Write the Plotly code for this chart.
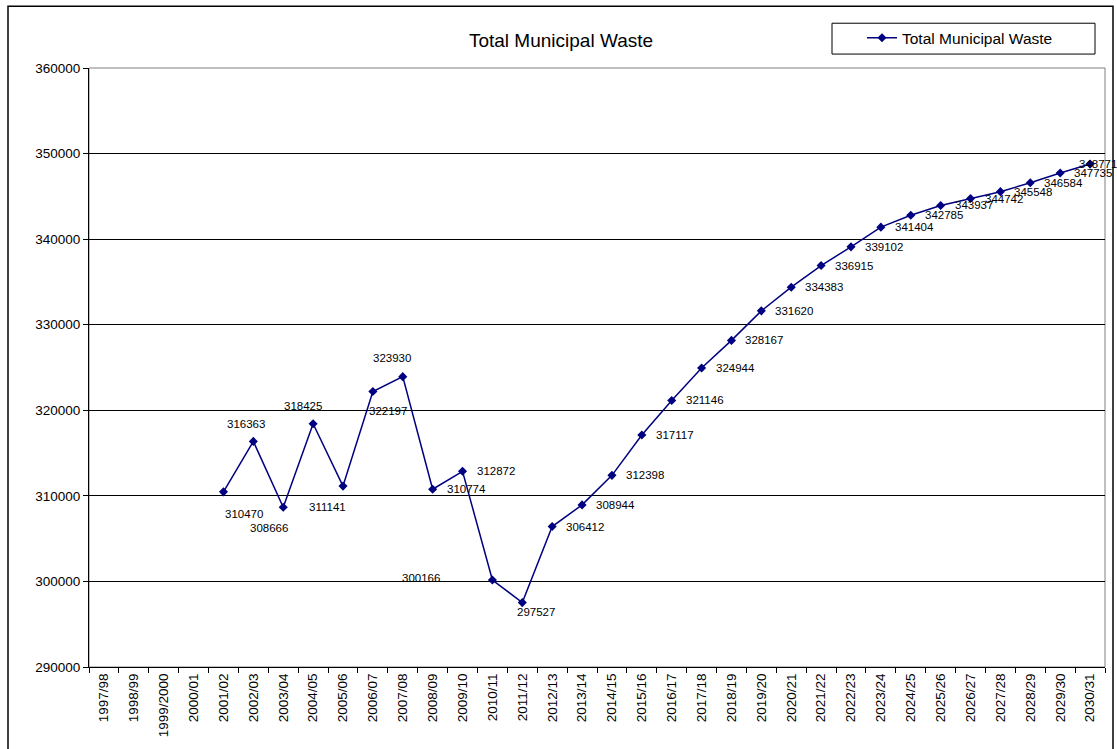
import plotly.graph_objects as go

# ── Data ──────────────────────────────────────────────────────
YEARS = [
    "1997/98", "1998/99", "1999/2000", "2000/01", "2001/02", "2002/03",
    "2003/04", "2004/05", "2005/06", "2006/07", "2007/08", "2008/09",
    "2009/10", "2010/11", "2011/12", "2012/13", "2013/14", "2014/15",
    "2015/16", "2016/17", "2017/18", "2018/19", "2019/20", "2020/21",
    "2021/22", "2022/23", "2023/24", "2024/25", "2025/26", "2026/27",
    "2027/28", "2028/29", "2029/30", "2030/31",
]
WASTE = [
    None, None, None, None, 310470, 316363,
    308666, 318425, 311141, 322197, 323930, 310774,
    312872, 300166, 297527, 306412, 308944, 312398,
    317117, 321146, 324944, 328167, 331620, 334383,
    336915, 339102, 341404, 342785, 343937, 344742,
    345548, 346584, 347735, 348771,
]

# ── Theme ─────────────────────────────────────────────────────
NAVY = "#000080"
FONT = "Arial, Liberation Sans, sans-serif"
W, H = 1117, 749
PL, PR, PT, PB = 89, 1105, 68, 670   # plot area in pixels


def px_x(p):
    return (p - PL) / (PR - PL)


def px_y(p):
    return (PB - p) / (PB - PT)


# label placement (xanchor, xshift, yshift); default is right of the point
LABEL_POS = {
    "2001/02": ("center", 21, -22),
    "2002/03": ("center", -7, 17),
    "2003/04": ("center", -14, -21),
    "2004/05": ("center", -10, 18),
    "2005/06": ("center", -16, -21),
    "2006/07": ("center", 15, -20),
    "2007/08": ("center", -11, 19),
    "2010/11": ("right", -50, 2),
    "2011/12": ("center", 14, -9),
    "2030/31": ("left", -13, 0),
}

fig = go.Figure()
fig.add_trace(go.Scatter(
    x=YEARS, y=WASTE,
    mode="lines+markers",
    name="Total Municipal Waste",
    line=dict(color=NAVY, width=1.5),
    marker=dict(symbol="diamond", size=7, color=NAVY),
    connectgaps=False,
))

annotations = []
for yr, v in zip(YEARS, WASTE):
    if v is None:
        continue
    anchor, dx, dy = LABEL_POS.get(yr, ("left", 12, 0))
    annotations.append(dict(
        x=yr, y=v, text=str(v), showarrow=False,
        xanchor=anchor, yanchor="middle", xshift=dx, yshift=dy,
        font=dict(family=FONT, size=11.5, color="#000000"),
    ))

shapes = [
    # outer chart frame
    dict(type="rect", xref="paper", yref="paper",
         x0=px_x(8), x1=px_x(1113), y0=px_y(770), y1=px_y(6),
         line=dict(color="#000000", width=1.5), layer="below"),
    # plot area border
    dict(type="rect", xref="paper", yref="paper",
         x0=0, x1=1, y0=0, y1=1,
         line=dict(color="#808080", width=1), layer="below"),
    # legend box
    dict(type="rect", xref="paper", yref="paper",
         x0=px_x(832), x1=px_x(1095), y0=px_y(54), y1=px_y(23),
         line=dict(color="#000000", width=1), fillcolor="white"),
]

fig.update_layout(
    width=W, height=H,
    margin=dict(l=PL, r=W - PR, t=PT, b=H - PB, pad=0),
    paper_bgcolor="white", plot_bgcolor="white",
    font=dict(family=FONT, color="#000000"),
    title=dict(text="Total Municipal Waste", x=561 / W, y=1 - 40 / H,
               xanchor="center", yanchor="middle",
               font=dict(family=FONT, size=19, color="#000000")),
    showlegend=True,
    legend=dict(x=px_x(862), y=px_y(38), xanchor="left", yanchor="middle",
                bgcolor="rgba(0,0,0,0)", borderwidth=0,
                font=dict(family=FONT, size=15.5, color="#000000")),
    annotations=annotations,
    shapes=shapes,
    xaxis=dict(
        type="category", categoryorder="array", categoryarray=YEARS,
        range=[-0.5, len(YEARS) - 0.5],
        showgrid=False, showline=True, linecolor="#000000", linewidth=1,
        ticks="outside", ticklen=5, tickcolor="#000000", tickson="boundaries",
        tickangle=-90, tickfont=dict(family=FONT, size=13.5, color="#000000"),
        zeroline=False,
    ),
    yaxis=dict(
        range=[290000, 360000], dtick=10000, tickformat="d",
        showgrid=True, gridcolor="#000000", gridwidth=1,
        showline=True, linecolor="#000000", linewidth=1,
        ticks="outside", ticklen=5, tickcolor="#000000",
        tickfont=dict(family=FONT, size=13.5, color="#000000"),
        zeroline=False,
    ),
)

# drop the browser's default body margin so the figure sits at the page corner
fig.write_html("out.html",
               config={"displayModeBar": False},
               post_script="document.body.style.margin='0';document.body.style.overflow='hidden';")
